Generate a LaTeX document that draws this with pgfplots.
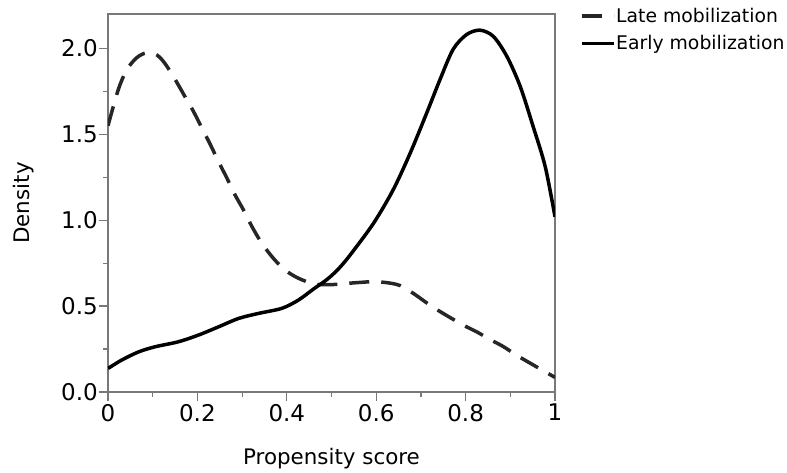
\documentclass[border=0pt]{standalone}
\usepackage{pgfplots}
\pgfplotsset{compat=1.18}
\usepackage{fontspec}
\setmainfont{DejaVu Sans}
\definecolor{axgray}{RGB}{120,120,120}
\begin{document}
\begin{tikzpicture}
\useasboundingbox (0,0) rectangle (787pt,472pt);
\begin{axis}[
  at={(108pt,80pt)}, anchor=south west,
  scale only axis, width=447pt, height=378pt,
  xmin=0, xmax=1, ymin=0, ymax=2.2,
  xtick={0,0.2,0.4,0.6,0.8,1},
  xticklabels={0,0.2,0.4,0.6,0.8,1},
  ytick={0,0.5,1,1.5,2},
  yticklabels={0.0,0.5,1.0,1.5,2.0},
  minor x tick num=1, minor y tick num=1,
  tick pos=left, tick align=outside,
  major tick length=9pt, minor tick length=5pt,
  every tick/.style={axgray, line width=1.2pt},
  axis line style={axgray, line width=1.4pt},
  ticklabel style={font=\fontsize{23}{26}\selectfont, black},
  yticklabel style={inner xsep=1pt},
  xticklabel style={inner ysep=3pt},
  xlabel={Propensity score},
  ylabel={Density},
  label style={font=\fontsize{21.4}{25}\selectfont},
  xlabel style={at={(axis description cs:0.5,-0.193)}, anchor=base},
  ylabel style={at={(axis description cs:-0.1745,0.5)}, anchor=base, rotate=0},
  legend style={at={(1.056,1.022)}, anchor=north west, draw=none, fill=none,
    inner sep=0pt, font=\fontsize{18.8}{22}\selectfont,
    nodes={inner xsep=0.5pt, inner ysep=2pt}, row sep=8pt},
  legend cell align=left,
]
\addplot[black!85, line width=3.5pt, dash pattern=on 20pt off 12pt, smooth, tension=0.5,
  legend image code/.code={\path (0pt,0pt) -- (32pt,0pt); \draw[black!85, line width=3.5pt] (0pt,0pt) -- (18pt,0pt);}]
coordinates {
(0,1.55) (0.023,1.76) (0.042,1.875) (0.064,1.945) (0.087,1.975) (0.11,1.96)
(0.128,1.91) (0.150,1.82) (0.172,1.72) (0.191,1.634) (0.210,1.537) (0.229,1.44)
(0.247,1.342) (0.266,1.245) (0.284,1.148) (0.303,1.06) (0.322,0.963) (0.344,0.866)
(0.370,0.778) (0.396,0.71) (0.426,0.662) (0.463,0.628) (0.50,0.625) (0.534,0.632)
(0.565,0.638) (0.594,0.642) (0.625,0.636) (0.653,0.62) (0.683,0.574) (0.720,0.506)
(0.750,0.457) (0.795,0.389) (0.825,0.35) (0.855,0.305) (0.884,0.265) (0.914,0.214)
(0.951,0.158) (1.0,0.085)
};
\addlegendentry{Late mobilization}
\addplot[black, line width=3.5pt, smooth, tension=0.5,
  legend image code/.code={\draw[black, line width=3.5pt] (0pt,0pt) -- (32pt,0pt);}]
coordinates {
(0,0.137) (0.030,0.185) (0.068,0.233) (0.105,0.263) (0.157,0.292) (0.202,0.331)
(0.247,0.379) (0.292,0.428) (0.336,0.457) (0.389,0.487) (0.426,0.535) (0.46,0.60)
(0.49,0.655) (0.515,0.715) (0.541,0.795) (0.594,0.982) (0.638,1.177) (0.676,1.39) (0.713,1.624)
(0.743,1.82) (0.772,1.994) (0.802,2.08) (0.832,2.106) (0.862,2.07) (0.892,1.955)
(0.922,1.78) (0.951,1.546) (0.978,1.313) (1.0,1.02)
};
\addlegendentry{Early mobilization}
\end{axis}
\end{tikzpicture}
\end{document}
